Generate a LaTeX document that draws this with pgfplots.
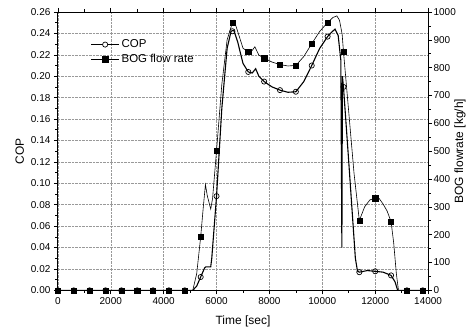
\documentclass[border=0pt]{standalone}
\usepackage{fontspec}
\setmainfont{Liberation Sans}
\usepackage{pgfplots}
\pgfplotsset{compat=1.18}

\pgfplotsset{
  common/.style={
    scale only axis, width=371pt, height=279pt,
    xmin=0, xmax=14000,
    /pgf/number format/assume math mode=true,
    tick label style={font=\fontsize{10}{12}\selectfont},
    label style={font=\fontsize{12}{14}\selectfont},
    tick align=outside,
    major tick length=4pt, minor tick length=2.5pt,
    tick style={black, line width=0.6pt},
    axis line style={line width=0.8pt},
  }
}

\begin{document}
\begin{tikzpicture}
\begin{axis}[common, name=ax,
  ymin=0, ymax=0.26,
  xtick={0,2000,4000,6000,8000,10000,12000,14000},
  minor x tick num=1,
  ytick={0,0.02,0.04,0.06,0.08,0.10,0.12,0.14,0.16,0.18,0.20,0.22,0.24,0.26},
  minor y tick num=1,
  ytick pos=left,
  scaled x ticks=false, scaled y ticks=false,
  xticklabel style={/pgf/number format/1000 sep={}},
  yticklabel style={/pgf/number format/.cd, fixed, fixed zerofill, precision=2},
  grid=major, grid style={densely dotted, gray!80, line width=0.5pt},
  xlabel={Time [sec]}, ylabel={COP},
  xlabel style={yshift=-4pt},
  legend style={draw=none, fill=none, at={(0.08,0.915)}, anchor=north west,
    font=\fontsize{11.5}{13}\selectfont, row sep=1pt},
  legend cell align=left,
]
% COP line (detailed)
\addplot[black, line width=1.1pt, forget plot] coordinates {
(0,0) (4800,0) (5100,0) (5250,0.004) (5400,0.0125) (5550,0.021) (5600,0.022)
(5780,0.022) (5820,0.03) (6000,0.088) (6200,0.17) (6400,0.226) (6550,0.242)
(6650,0.243) (6800,0.232) (7000,0.212) (7200,0.204) (7350,0.203) (7480,0.207)
(7600,0.200) (7800,0.195) (8100,0.190) (8400,0.187) (8700,0.185) (9000,0.1855)
(9300,0.195) (9600,0.21) (9900,0.226) (10200,0.237) (10350,0.241) (10480,0.244)
(10600,0.238) (10700,0.215) (10740,0.04) (10760,0.20) (10800,0.190)
(11000,0.12) (11250,0.03) (11330,0.018) (11400,0.017) (11700,0.0185)
(12000,0.0178) (12300,0.017) (12600,0.014) (12750,0.008) (12850,0)
(13200,0) (13900,0)
};
% COP markers
\addplot[black, only marks, mark=o, mark size=2.6pt, mark options={fill=white, line width=0.7pt}, forget plot] coordinates {
(0,0) (600,0) (1200,0) (1800,0) (2400,0) (3000,0) (3600,0) (4200,0) (4800,0)
(5400,0.0125) (6000,0.088) (6600,0.242) (7200,0.204) (7800,0.195) (8400,0.187)
(9000,0.1855) (9600,0.21) (10200,0.237) (10800,0.19) (11400,0.017)
(12000,0.0178) (12600,0.014) (13200,0) (13800,0)
};
\addlegendimage{legend image code/.code={
  \draw[black, line width=1pt] (0pt,0pt) -- (28pt,0pt);
  \draw[black, fill=white, line width=0.7pt] (14pt,0pt) circle (2.6pt);}}
\addlegendentry{COP}
\addlegendimage{legend image code/.code={
  \draw[black, line width=0.6pt] (0pt,0pt) -- (28pt,0pt);
  \draw[black, fill=black] (11.4pt,-2.6pt) rectangle (16.6pt,2.6pt);}}
\addlegendentry{BOG flow rate}
\end{axis}

\begin{axis}[common,
  axis y line*=right, axis x line=none,
  ymin=0, ymax=1000,
  ytick={0,100,200,300,400,500,600,700,800,900,1000},
  minor y tick num=1,
  yticklabel style={/pgf/number format/1000 sep={}, xshift=-2pt},
  ylabel={BOG flowrate [kg/h]},
  ylabel style={at={(rel axis cs:1,0.5)}, anchor=north, yshift=-23pt},
]
% BOG line (detailed)
\addplot[black, line width=0.6pt] coordinates {
(0,0) (5100,0) (5250,60) (5400,192) (5500,300) (5580,380) (5650,340) (5780,292)
(5850,330) (6000,502) (6200,740) (6400,900) (6600,961) (6680,965) (6800,930)
(7000,870) (7200,856) (7350,862) (7450,875) (7600,845) (7800,834) (8100,820)
(8400,811) (8700,806) (9000,808) (9300,840) (9600,886) (9900,930) (10200,962)
(10400,980) (10550,986) (10650,970) (10750,920) (10800,858) (11000,640)
(11200,420) (11400,251) (11600,300) (11800,325) (12000,331) (12150,330)
(12300,310) (12450,285) (12600,247) (12700,170) (12800,60) (12880,0)
(13800,0) (13900,0)
};
% BOG markers
\addplot[black, only marks, mark=square*, mark size=2.6pt] coordinates {
(0,0) (600,0) (1200,0) (1800,0) (2400,0) (3000,0) (3600,0) (4200,0) (4800,0)
(5400,192) (6000,502) (6600,961) (7200,856) (7800,834) (8400,811) (9000,808)
(9600,886) (10200,962) (10800,858) (11400,251) (12000,331) (12600,247)
(13200,0) (13800,0)
};
\end{axis}
\pgfresetboundingbox
\path[use as bounding box] ([xshift=-58pt,yshift=-40pt]ax.south west) rectangle ([xshift=39pt,yshift=12pt]ax.north east);
\end{tikzpicture}
\end{document}
